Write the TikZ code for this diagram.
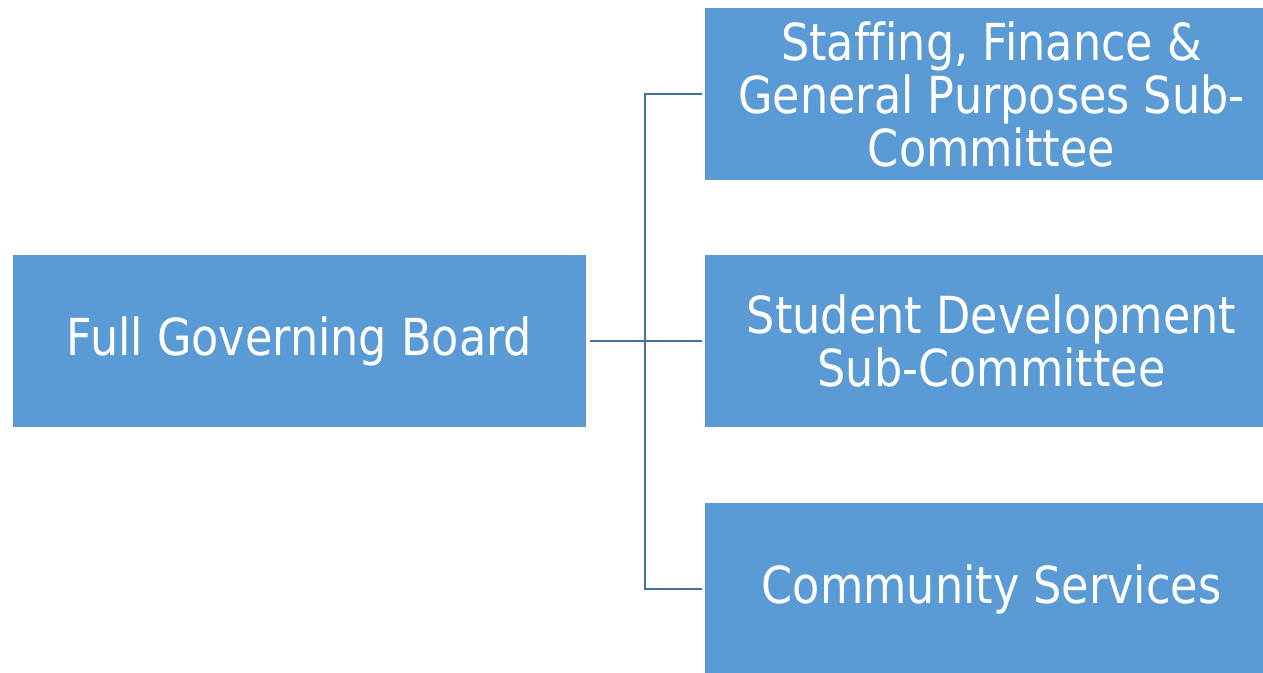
\documentclass[tikz,border=0pt]{standalone}
\usepackage{fontspec}
\newfontfamily\boxfont[FakeStretch=0.873,Ligatures=NoCommon]{DejaVu Sans}
\definecolor{boxblue}{HTML}{5B9BD5}
\definecolor{linkblue}{HTML}{41719C}
\tikzset{
  orgbox/.style={fill=boxblue, draw=none, minimum width=573pt, minimum height=172pt,
    inner sep=0pt, text=white, align=center,
    font=\boxfont\fontsize{51}{53}\selectfont},
  link/.style={draw=linkblue, line width=2.2pt}
}
\begin{document}
\begin{tikzpicture}[x=1pt,y=-1pt]
\useasboundingbox (0,0) rectangle (1263,672);
\fill[white] (0,0) rectangle (1263,672);
\node[orgbox] (board) at (299.5,341) {Full Governing Board};
\node[orgbox] (sfgp) at (991.5,94) {Staffing, Finance \&\\General Purposes Sub-\\Committee};
\node[orgbox] (sd) at (991.5,341) {Student Development\\Sub-Committee};
\node[orgbox] (cs) at (991.5,589) {Community Services};
\coordinate (hub) at (645,341);
\draw[link] ([xshift=4pt]board.east) -- ([xshift=-3pt]sd.west);
\draw[link] ([xshift=-3pt]sfgp.west) -| (hub) |- ([xshift=-3pt]cs.west);
\end{tikzpicture}
\end{document}
